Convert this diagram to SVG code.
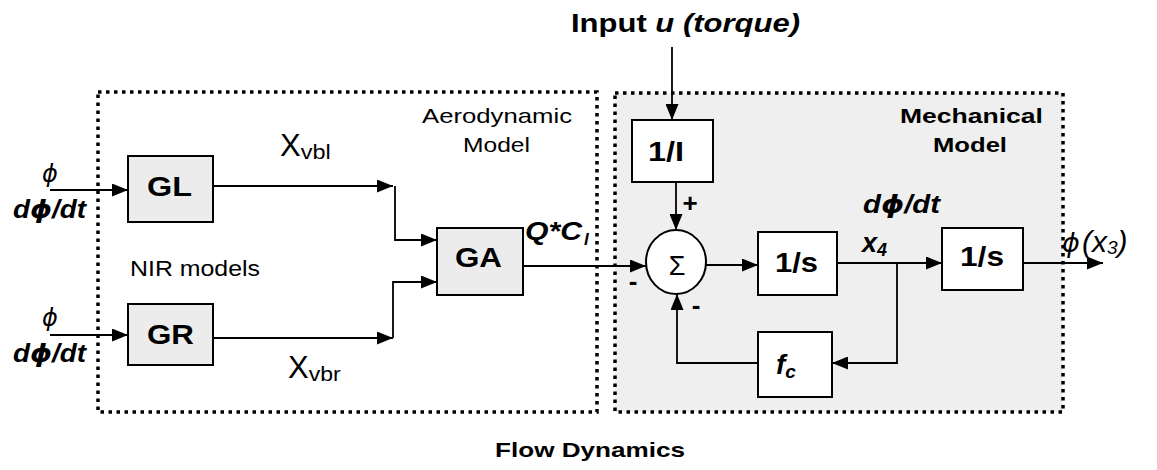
<svg xmlns="http://www.w3.org/2000/svg" width="1157" height="470" viewBox="0 0 1157 470">
<style>
text{font-family:"Liberation Sans",Arial,sans-serif;fill:#000}
.b{font-weight:bold}
.bi{font-weight:bold;font-style:italic}
.phi{font-family:"DejaVu Sans",sans-serif}
.blk{fill:#fff;stroke:#000;stroke-width:2}
.gblk{fill:#ececec;stroke:#000;stroke-width:2}
.reg{stroke:#000;stroke-width:3.5;stroke-dasharray:3.5 4.5;}
.ln{fill:none;stroke:#000;stroke-width:1.8}
</style>
<defs>
<marker id="ah" markerWidth="16" markerHeight="13" refX="16" refY="6.5" orient="auto" markerUnits="userSpaceOnUse">
<path d="M0,0 L16,6.5 L0,13 z" fill="#000"/>
</marker>
</defs>
<rect width="1157" height="470" fill="#fff"/>

<g id="aero-region">
<rect class="reg" x="98" y="92" width="499" height="320" fill="#fff"/>
<text x="422" y="123" font-size="21" textLength="150" lengthAdjust="spacingAndGlyphs">Aerodynamic</text>
<text x="463" y="152" font-size="21" textLength="67" lengthAdjust="spacingAndGlyphs">Model</text>
<text x="130" y="276" font-size="22" textLength="130" lengthAdjust="spacingAndGlyphs">NIR models</text>
</g>

<g id="mech-region">
<rect class="reg" x="615" y="93" width="448" height="319" fill="#efefef"/>
<text class="b" x="900" y="123" font-size="21" textLength="143" lengthAdjust="spacingAndGlyphs">Mechanical</text>
<text class="b" x="933" y="152" font-size="21" textLength="74" lengthAdjust="spacingAndGlyphs">Model</text>
</g>

<g id="title">
<text class="b" x="571" y="32" font-size="26" textLength="229" lengthAdjust="spacingAndGlyphs">Input <tspan font-style="italic">u (torque)</tspan></text>
</g>
<g id="footer">
<text class="b" x="495" y="457" font-size="21" textLength="190" lengthAdjust="spacingAndGlyphs">Flow Dynamics</text>
</g>

<g id="GL">
<rect class="gblk" x="128" y="156" width="85" height="66"/>
<text class="b" x="147" y="196" font-size="28" textLength="45" lengthAdjust="spacingAndGlyphs">GL</text>
</g>
<g id="GR">
<rect class="gblk" x="128" y="304" width="85" height="61"/>
<text class="b" x="147" y="344" font-size="28" textLength="47" lengthAdjust="spacingAndGlyphs">GR</text>
</g>
<g id="GA">
<rect class="gblk" x="437" y="228" width="86" height="67"/>
<text class="b" x="455" y="267" font-size="28" textLength="47" lengthAdjust="spacingAndGlyphs">GA</text>
</g>
<g id="invI">
<rect class="blk" x="632" y="120" width="81" height="62"/>
<text class="b" x="648" y="161" font-size="28" textLength="36" lengthAdjust="spacingAndGlyphs">1/I</text>
</g>
<g id="sum">
<ellipse cx="676" cy="262" rx="30" ry="32" fill="#fff" stroke="#000" stroke-width="2"/>
<text x="677" y="275" font-size="27" text-anchor="middle">Σ</text>
</g>
<g id="int1">
<rect class="blk" x="758" y="232" width="79" height="63"/>
<text class="b" x="775" y="272" font-size="28" textLength="43" lengthAdjust="spacingAndGlyphs">1/s</text>
</g>
<g id="int2">
<rect class="blk" x="942" y="228" width="81" height="62"/>
<text class="b" x="960" y="266" font-size="28" textLength="44" lengthAdjust="spacingAndGlyphs">1/s</text>
</g>
<g id="fc">
<rect class="blk" x="758" y="332" width="74" height="65"/>
<text class="bi" x="776" y="374" font-size="28">f<tspan font-size="19" dy="4">c</tspan></text>
</g>

<g id="connectors">
<path class="ln" d="M672,47 L672,120" marker-end="url(#ah)"/>
<path class="ln" d="M676,182 L676,230" marker-end="url(#ah)"/>
<path class="ln" d="M50,190 L128,190" marker-end="url(#ah)"/>
<path class="ln" d="M50,335 L128,335" marker-end="url(#ah)"/>
<path class="ln" d="M213,186 L393,186" marker-end="url(#ah)"/>
<path class="ln" d="M395,186 L395,240 L437,240" marker-end="url(#ah)"/>
<path class="ln" d="M213,338 L393,338" marker-end="url(#ah)"/>
<path class="ln" d="M393,338 L393,282 L437,282" marker-end="url(#ah)"/>
<path class="ln" d="M523,266 L646,266" marker-end="url(#ah)"/>
<path class="ln" d="M706,265 L758,265" marker-end="url(#ah)"/>
<path class="ln" d="M837,263 L942,263" marker-end="url(#ah)"/>
<path class="ln" d="M897,263 L897,363 L832,363" marker-end="url(#ah)"/>
<path class="ln" d="M758,363 L677,363 L677,294" marker-end="url(#ah)"/>
<path class="ln" d="M1023,263 L1103,263" marker-end="url(#ah)"/>
</g>

<g id="labels">
<text class="phi" x="50" y="182" font-size="24" font-style="italic" text-anchor="middle">ϕ</text>
<text class="bi" x="13" y="218" font-size="25" textLength="73" lengthAdjust="spacingAndGlyphs">d<tspan class="phi">ϕ</tspan>/dt</text>
<text class="phi" x="50" y="326" font-size="24" font-style="italic" text-anchor="middle">ϕ</text>
<text class="bi" x="13" y="362" font-size="25" textLength="73" lengthAdjust="spacingAndGlyphs">d<tspan class="phi">ϕ</tspan>/dt</text>
<text x="280" y="156" font-size="31">X<tspan font-size="20" dy="3" textLength="30" lengthAdjust="spacingAndGlyphs">vbl</tspan></text>
<text x="288" y="378" font-size="31">X<tspan font-size="20" dy="3" textLength="32" lengthAdjust="spacingAndGlyphs">vbr</tspan></text>
<text class="bi" x="525" y="240" font-size="26" textLength="57" lengthAdjust="spacingAndGlyphs">Q*C</text>
<text class="bi" x="584" y="245" font-size="17">l</text>
<text class="b" x="690" y="212" font-size="26" text-anchor="middle">+</text>
<text class="b" x="633" y="290" font-size="26" text-anchor="middle">-</text>
<text class="b" x="696" y="314" font-size="26" text-anchor="middle">-</text>
<text class="bi" x="863" y="213" font-size="25" textLength="77" lengthAdjust="spacingAndGlyphs">d<tspan class="phi">ϕ</tspan>/dt</text>
<text class="bi" x="862" y="252" font-size="27">x<tspan font-size="18" dy="4">4</tspan></text>
<text x="1062" y="252" font-size="30" font-style="italic"><tspan class="phi" font-size="27">ϕ</tspan><tspan x="1082">(x</tspan><tspan font-size="19" dy="2">3</tspan><tspan dy="-2">)</tspan></text>
</g>
</svg>
